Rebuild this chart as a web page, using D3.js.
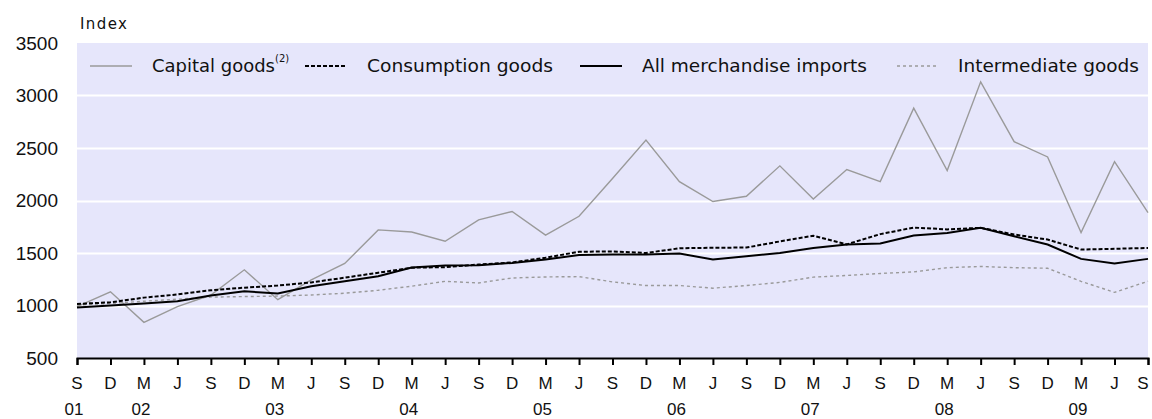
<!DOCTYPE html>
<html>
<head>
<meta charset="utf-8">
<script src="https://cdn.jsdelivr.net/npm/d3@7"></script>
<style>
  body { margin: 0; background: #fff; }
  svg { display: block; }
</style>
</head>
<body>
<div id="chart"></div>
<script>
const WIDTH = 1152;
const HEIGHT = 419;

// quarters Sep 2001 .. Sep 2009
const months = ["S","D","M","J","S","D","M","J","S","D","M","J","S","D","M","J","S",
                "D","M","J","S","D","M","J","S","D","M","J","S","D","M","J","S"];
const years = [["01", 0], ["02", 2], ["03", 6], ["04", 10], ["05", 14], ["06", 18], ["07", 22], ["08", 26], ["09", 30]];
const yTicks = [500, 1000, 1500, 2000, 2500, 3000, 3500];

const capital = [990, 1130, 840, 990, 1100, 1340, 1055, 1245, 1400, 1720, 1700, 1612, 1815, 1895, 1670,
                 1850, 2210, 2575, 2180, 1990, 2040, 2330, 2015, 2295, 2180, 2880, 2285, 3130, 2560, 2415,
                 1695, 2370, 1885];
const consumption = [1015, 1030, 1075, 1105, 1145, 1170, 1190, 1220, 1265, 1312, 1360, 1365, 1390, 1410, 1455,
                     1512, 1515, 1500, 1545, 1550, 1552, 1610, 1665, 1582, 1680, 1742, 1725, 1740, 1676, 1628,
                     1533, 1540, 1548];
const allImports = [980, 1000, 1019, 1041, 1095, 1136, 1114, 1184, 1231, 1279, 1362, 1381, 1383, 1405, 1438,
                    1480, 1486, 1486, 1495, 1438, 1470, 1500, 1548, 1581, 1590, 1667, 1690, 1740, 1660, 1581,
                    1444, 1400, 1444];
const intermediate = [1005, 1019, 1041, 1060, 1080, 1085, 1090, 1100, 1117, 1145, 1184, 1230, 1215, 1262, 1272,
                      1275, 1225, 1190, 1190, 1165, 1190, 1220, 1270, 1286, 1305, 1320, 1360, 1372, 1360, 1355,
                      1230, 1125, 1231];

const series = [
  { name: "Capital goods", sup: "(2)", values: capital, color: "#9a9a9a", width: 1.4, dash: null, lx: 90, tx: 152, tw: 123 },
  { name: "Consumption goods", values: consumption, color: "#000", width: 2, dash: "4,2", lx: 305, tx: 367, tw: 186 },
  { name: "All merchandise imports", values: allImports, color: "#000", width: 2, dash: null, lx: 580, tx: 642, tw: 225 },
  { name: "Intermediate goods", values: intermediate, color: "#9a9a9a", width: 1.4, dash: "3,3", lx: 897, tx: 958, tw: 181 }
];

const margin = { top: 43, right: 4, bottom: 61, left: 77 };
const plotW = WIDTH - margin.left - margin.right;
const plotH = HEIGHT - margin.top - margin.bottom;

let svg = d3.select("#chart")
    .append("svg")
    .attr("width", WIDTH)
    .attr("height", HEIGHT);

let g = svg.append("g")
    .attr("transform", `translate(${margin.left},${margin.top})`);

let x = d3.scaleLinear()
    .domain([0, months.length - 1])
    .range([0, plotW]);

let y = d3.scaleLinear()
    .domain([500, 3500])
    .range([plotH, 0]);

// plot background
g.append("rect")
    .attr("width", plotW)
    .attr("height", plotH)
    .attr("fill", "#e6e6fb");

// gridlines
g.selectAll("line.grid")
    .data(yTicks.filter(d => d > 500 && d < 3500))
    .enter()
    .append("line")
    .attr("class", "grid")
    .attr("x1", 0)
    .attr("x2", plotW)
    .attr("y1", d => Math.round(y(d)) + 0.5)
    .attr("y2", d => Math.round(y(d)) + 0.5)
    .attr("stroke", "#fff")
    .attr("stroke-width", 2);

// y labels
g.selectAll("text.ytick")
    .data(yTicks)
    .enter()
    .append("text")
    .attr("class", "ytick")
    .attr("x", -19)
    .attr("y", d => y(d))
    .attr("dy", "0.36em")
    .attr("text-anchor", "end")
    .style("font-family", "Liberation Sans, Arial, sans-serif")
    .style("font-size", "19px")
    .attr("fill", "#111")
    .text(d => d);

svg.append("text")
    .attr("x", 80)
    .attr("y", 29)
    .style("font-family", "DejaVu Sans, sans-serif")
    .style("font-size", "15px")
    .attr("textLength", 47)
    .attr("fill", "#111")
    .text("Index");

// x axis
let xAxis = d3.axisBottom(x)
    .tickValues(d3.range(months.length))
    .tickSize(7)
    .tickFormat("");

let axisG = g.append("g")
    .attr("transform", `translate(0,${plotH})`)
    .call(xAxis);
axisG.select(".domain").attr("stroke", "#000").attr("stroke-width", 2);
axisG.selectAll(".tick line").attr("stroke", "#000").attr("stroke-width", 2);

g.selectAll("text.month")
    .data(months)
    .enter()
    .append("text")
    .attr("class", "month")
    .attr("x", (d, i) => Math.min(x(i), plotW - 5))
    .attr("y", plotH + 31)
    .attr("text-anchor", "middle")
    .style("font-family", "Liberation Sans, Arial, sans-serif")
    .style("font-size", "17px")
    .attr("fill", "#111")
    .text(d => d);

g.selectAll("text.year")
    .data(years)
    .enter()
    .append("text")
    .attr("class", "year")
    .attr("x", d => x(d[1]) - 3)
    .attr("y", plotH + 57)
    .attr("text-anchor", "middle")
    .style("font-family", "Liberation Sans, Arial, sans-serif")
    .style("font-size", "17px")
    .attr("fill", "#111")
    .text(d => d[0]);

// lines
let line = d3.line()
    .x((d, i) => x(i))
    .y(d => y(d));

let drawOrder = [series[3], series[0], series[1], series[2]];
g.selectAll("path.series")
    .data(drawOrder)
    .enter()
    .append("path")
    .attr("class", "series")
    .attr("d", d => line(d.values))
    .attr("fill", "none")
    .attr("stroke", d => d.color)
    .attr("stroke-width", d => d.width)
    .attr("stroke-dasharray", d => d.dash);

// legend
let legend = svg.append("g").attr("class", "legend");
const legendY = 66;

series.forEach(s => {
    legend.append("line")
        .attr("x1", s.lx)
        .attr("x2", s.lx + 42)
        .attr("y1", legendY)
        .attr("y2", legendY)
        .attr("stroke", s.color)
        .attr("stroke-width", s.width)
        .attr("stroke-dasharray", s.dash);

    let t = legend.append("text")
        .attr("x", s.tx)
        .attr("y", legendY + 6)
        .style("font-family", "DejaVu Sans, sans-serif")
        .style("font-size", "17px")
        .attr("fill", "#111");
    t.append("tspan")
        .attr("textLength", s.tw)
        .attr("lengthAdjust", "spacingAndGlyphs")
        .text(s.name);
    if (s.sup) {
        t.append("tspan")
            .attr("dy", -10)
            .style("font-size", "10px")
            .text(s.sup);
    }
});
</script>
</body>
</html>
